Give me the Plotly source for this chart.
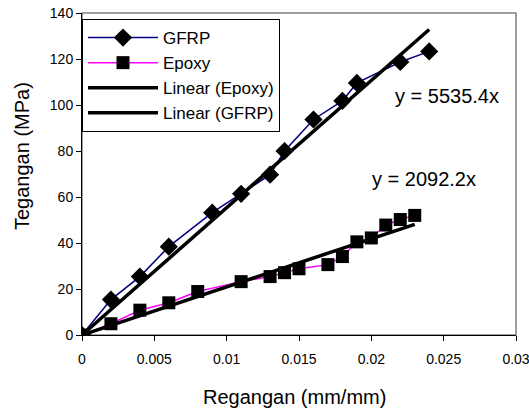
import plotly.graph_objects as go

# GFRP data
gfrp_strain = [0, 0.002, 0.004, 0.006, 0.009, 0.011, 0.013, 0.014, 0.016, 0.018, 0.019, 0.022, 0.024]
gfrp_stress = [0, 15.4, 25.4, 38.4, 53.2, 61.4, 69.7, 80.0, 93.7, 101.8, 109.6, 118.7, 123.3]

# Epoxy data
epoxy_strain = [0, 0.002, 0.004, 0.006, 0.008, 0.011, 0.013, 0.014, 0.015, 0.017, 0.018, 0.019, 0.020, 0.021, 0.022, 0.023]
epoxy_stress = [0, 4.9, 10.8, 14.0, 18.9, 23.2, 25.4, 27.1, 28.8, 30.6, 34.1, 40.5, 42.2, 47.8, 50.2, 52.0]

# Linear trendline slopes (through origin)
gfrp_slope = 5535.4
epoxy_slope = 2092.2

x_ticks = [0, 0.005, 0.01, 0.015, 0.02, 0.025, 0.03]
x_tick_labels = ["0", "0.005", "0.01", "0.015", "0.02", "0.025", "0.03"]
y_ticks = [0, 20, 40, 60, 80, 100, 120, 140]

FONT = "Liberation Sans, Arial, sans-serif"

W, H = 529, 410
L, R, T, B = 82, 13, 13, 75
pw, ph = W - L - R, H - T - B

fig = go.Figure()

fig.add_trace(go.Scatter(
    x=gfrp_strain, y=gfrp_stress, name="GFRP", mode="lines+markers",
    line=dict(color="#000080", width=1.5),
    marker=dict(symbol="diamond", size=14, color="black"),
))
fig.add_trace(go.Scatter(
    x=epoxy_strain, y=epoxy_stress, name="Epoxy", mode="lines+markers",
    line=dict(color="#FF00FF", width=1.5),
    marker=dict(symbol="square", size=13, color="black"),
))
ex = [0, max(epoxy_strain)]
fig.add_trace(go.Scatter(
    x=ex, y=[epoxy_slope * v for v in ex], name="Linear (Epoxy)", mode="lines",
    line=dict(color="black", width=3.5),
))
gx = [0, max(gfrp_strain)]
fig.add_trace(go.Scatter(
    x=gx, y=[gfrp_slope * v for v in gx], name="Linear (GFRP)", mode="lines",
    line=dict(color="black", width=3.5),
))

fig.add_annotation(x=0.02524, y=104, xref="x", yref="y", text="y = 5535.4x",
                   xanchor="center", yanchor="middle",
                   showarrow=False, font=dict(size=20, color="black", family=FONT))
fig.add_annotation(x=0.02365, y=68, xref="x", yref="y", text="y = 2092.2x",
                   xanchor="center", yanchor="middle",
                   showarrow=False, font=dict(size=20, color="black", family=FONT))

# axis titles (positioned in paper coordinates)
fig.add_annotation(xref="paper", yref="paper", x=(294 - L) / pw, y=(H - B - 397) / ph,
                   xanchor="center", yanchor="middle", text="Regangan (mm/mm)",
                   showarrow=False, font=dict(size=20, color="black", family=FONT))
fig.add_annotation(xref="paper", yref="paper", x=(22 - L) / pw, y=(H - B - 156) / ph,
                   xanchor="center", yanchor="middle", text="Tegangan (MPa)", textangle=-90,
                   showarrow=False, font=dict(size=20, color="black", family=FONT))

fig.update_layout(
    width=W, height=H,
    margin=dict(l=L, r=R, t=T, b=B),
    paper_bgcolor="white", plot_bgcolor="white",
    font=dict(family=FONT, color="black", size=14),
    showlegend=True,
    legend=dict(
        x=0, y=1 - 6 / ph, xanchor="left", yanchor="top",
        bgcolor="white", bordercolor="black", borderwidth=1,
        font=dict(size=17, family=FONT, color="black"),
        itemwidth=70, tracegroupgap=0,
    ),
    xaxis=dict(
        range=[0, 0.03], tickvals=x_ticks, ticktext=x_tick_labels,
        showgrid=False, zeroline=False, showline=True, linecolor="black", linewidth=1,
        ticks="outside", ticklen=5, tickcolor="black",
        tickfont=dict(size=14), ticklabelstandoff=6, ticklabeloverflow="allow",
        automargin=False,
    ),
    yaxis=dict(
        range=[0, 140], tickvals=y_ticks,
        showgrid=False, zeroline=False, showline=True, linecolor="black", linewidth=1,
        ticks="outside", ticklen=5, tickcolor="black",
        tickfont=dict(size=14), automargin=False,
    ),
    shapes=[dict(type="rect", xref="paper", yref="paper", x0=0, y0=0, x1=1, y1=1,
                 line=dict(color="#808080", width=1.5), layer="below")],
)

fig.write_html("out.html", config={"displayModeBar": False},
               post_script="document.body.style.margin='0';document.body.style.overflow='hidden';")
